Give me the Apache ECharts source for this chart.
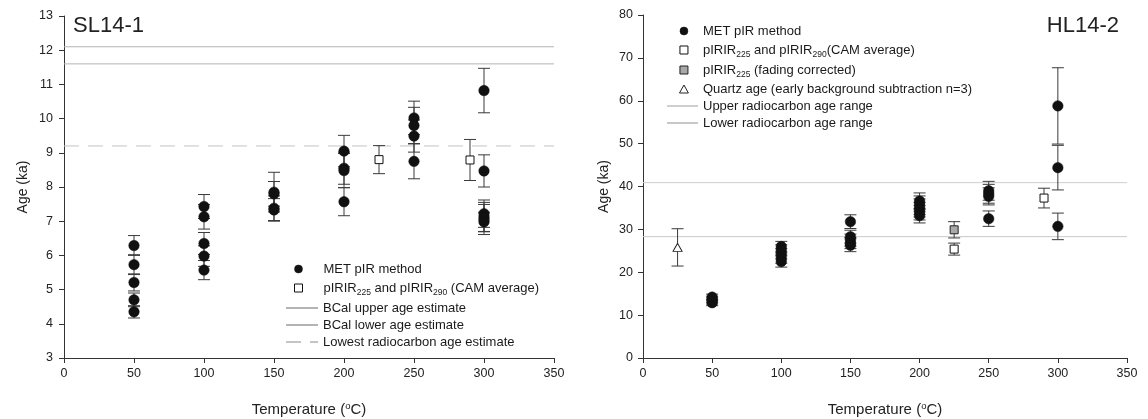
<!DOCTYPE html>
<html>
<head>
<meta charset="utf-8">
<script src="https://cdn.jsdelivr.net/npm/echarts@6/dist/echarts.min.js"></script>
<style>
  html, body { margin: 0; padding: 0; background: #fff; }
  #chart { width: 1148px; height: 419px; }
</style>
</head>
<body>
<div id="chart"></div>
<script>
// ---- SL14-1 : [temperature °C, age ka, ± error ka]
const slMet = [
  [50, 6.29, 0.29], [50, 5.73, 0.29], [50, 5.21, 0.25], [50, 4.70, 0.20], [50, 4.35, 0.18],
  [100, 7.43, 0.35], [100, 7.13, 0.36], [100, 6.35, 0.32], [100, 5.98, 0.30], [100, 5.57, 0.28],
  [150, 7.85, 0.58], [150, 7.80, 0.36], [150, 7.38, 0.36], [150, 7.33, 0.33],
  [200, 9.05, 0.46], [200, 8.55, 0.47], [200, 8.48, 0.50], [200, 7.57, 0.41],
  [250, 10.02, 0.49], [250, 9.80, 0.53], [250, 9.49, 0.47], [250, 8.75, 0.51],
  [300, 10.82, 0.65], [300, 8.47, 0.47], [300, 7.22, 0.40], [300, 7.12, 0.43], [300, 7.05, 0.44], [300, 6.98, 0.28]
];
const slCam = [[225, 8.80, 0.41], [290, 8.79, 0.60]];
const slBcalUpper = 12.1;
const slBcalLower = 11.6;
const slLowestRadiocarbon = 9.2;

// ---- HL14-2 : [temperature °C, age ka, ± error ka]
const hlMet = [
  [50, 14.2, 0.7], [50, 13.7, 0.7], [50, 13.3, 0.7], [50, 12.9, 0.7],
  [100, 26.0, 1.2], [100, 25.2, 1.2], [100, 24.3, 1.2], [100, 23.3, 1.2], [100, 22.5, 1.3],
  [150, 31.8, 1.6], [150, 28.3, 1.5], [150, 27.5, 1.4], [150, 26.8, 1.3], [150, 26.3, 1.5],
  [200, 36.6, 1.9], [200, 36.0, 1.8], [200, 35.3, 1.8], [200, 34.6, 1.7], [200, 33.9, 1.7], [200, 33.2, 1.7],
  [250, 39.0, 2.2], [250, 38.3, 2.2], [250, 37.7, 2.0], [250, 32.5, 1.8],
  [300, 58.8, 8.9], [300, 44.4, 5.2], [300, 30.7, 3.1]
];
const hlCam = [[225, 25.4, 1.4], [290, 37.3, 2.3]];
const hlFading = [[225, 29.9, 1.9]];
const hlQuartz = [[25, 25.8, 4.35]];
const hlRadiocarbonUpper = 40.9;
const hlRadiocarbonLower = 28.3;

// axis extents
const tempRange = [0, 350];
const slAgeRange = [3, 13];
const hlAgeRange = [0, 80];

// series names
const N_MET = 'MET pIR method';
const N_SL_CAM = 'pIRIR225 and pIRIR290 (CAM average)';
const N_HL_CAM = 'pIRIR225 and pIRIR290(CAM average)';
const N_FADING = 'pIRIR225 (fading corrected)';
const N_QUARTZ = 'Quartz age (early background subtraction n=3)';
const N_BCAL_UP = 'BCal upper age estimate';
const N_BCAL_LOW = 'BCal lower age estimate';
const N_LOWEST_C14 = 'Lowest radiocarbon age estimate';
const N_C14_UP = 'Upper radiocarbon age range';
const N_C14_LOW = 'Lower radiocarbon age range';

const FONT = '"Liberation Sans", Arial, Helvetica, sans-serif';
const SQUARE = 'path://M0,0H10V10H0Z';
const TRIANGLE = 'path://M5,0L10,9H0Z';

function errorBar(params, api) {
  const x = api.value(0), y = api.value(1), e = api.value(2);
  const top = api.coord([x, y + e]);
  const bot = api.coord([x, y - e]);
  const hw = 6;
  const style = { stroke: '#3a3a3a', lineWidth: 1 };
  return {
    type: 'group',
    children: [
      { type: 'line', shape: { x1: top[0], y1: top[1], x2: bot[0], y2: bot[1] }, style },
      { type: 'line', shape: { x1: top[0] - hw, y1: top[1], x2: top[0] + hw, y2: top[1] }, style },
      { type: 'line', shape: { x1: bot[0] - hw, y1: bot[1], x2: bot[0] + hw, y2: bot[1] }, style }
    ]
  };
}

function errSeries(data, idx) {
  return {
    type: 'custom', xAxisIndex: idx, yAxisIndex: idx, renderItem: errorBar,
    data: data, encode: { x: 0, y: 1 }, z: 2, silent: true
  };
}
function pts(list) { return list.map(d => [d[0], d[1]]); }
function hline(name, v, idx, color, dash) {
  return {
    name, type: 'line', xAxisIndex: idx, yAxisIndex: idx, symbol: 'none', silent: true,
    data: [[tempRange[0], v], [tempRange[1], v]],
    itemStyle: { color, opacity: 0 },
    lineStyle: { color, width: 1, type: dash ? [15, 9] : 'solid' }, z: 1
  };
}

const circleStyle = { color: '#111', borderColor: '#111', borderWidth: 0.5, opacity: 1 };
const openSquareStyle = { color: '#fff', borderColor: '#111', borderWidth: 1, opacity: 1 };
const greySquareStyle = { color: '#a9a9a9', borderColor: '#222', borderWidth: 1, opacity: 1 };
const triangleStyle = { color: '#fff', borderColor: '#222', borderWidth: 1, opacity: 1 };
const hiddenSymbol = { opacity: 0 };

// subscripts in legend text
function subFmt(name) { return name.replace(/pIRIR(\d{3})/g, 'pIRIR{s|$1}'); }
const legendText = {
  fontFamily: FONT, fontSize: 13, color: '#1a1a1a', lineHeight: 16,
  rich: { s: { fontFamily: FONT, fontSize: 8.5, lineHeight: 18, verticalAlign: 'bottom', color: '#1a1a1a' } }
};

function axisStyle(labelMargin) {
  return {
    axisLine: { show: true, onZero: false, lineStyle: { color: '#333', width: 1 } },
    axisTick: { show: true, length: 5, lineStyle: { color: '#333' } },
    splitLine: { show: false },
    axisLabel: { fontFamily: FONT, fontSize: 12.5, color: '#222', margin: labelMargin }
  };
}
const xName = '{n|Temperature (}{sup|o}{n|C)}';
const xNameStyle = {
  fontFamily: FONT, fontSize: 15, color: '#222',
  rich: {
    n: { fontFamily: FONT, fontSize: 15, color: '#222', lineHeight: 17 },
    sup: { fontFamily: FONT, fontSize: 9.5, color: '#222', lineHeight: 17, verticalAlign: 'top' }
  }
};
const yNameStyle = { fontFamily: FONT, fontSize: 14, color: '#222' };

const option = {
  animation: false,
  backgroundColor: '#fff',
  title: [
    { text: 'SL14-1', left: 68, top: 10, textStyle: { fontFamily: FONT, fontSize: 22, fontWeight: 'normal', color: '#222' } },
    { text: 'HL14-2', right: 24, top: 10, textStyle: { fontFamily: FONT, fontSize: 22, fontWeight: 'normal', color: '#222' } }
  ],
  grid: [
    { left: 64, top: 16, width: 490, height: 342, containLabel: false, outerBoundsMode: 'none' },
    { left: 643, top: 15, width: 484, height: 343, containLabel: false, outerBoundsMode: 'none' }
  ],
  xAxis: [
    Object.assign({ type: 'value', gridIndex: 0, min: tempRange[0], max: tempRange[1], interval: 50,
      name: xName, nameLocation: 'middle', nameGap: 43, nameTextStyle: xNameStyle }, axisStyle(9)),
    Object.assign({ type: 'value', gridIndex: 1, min: tempRange[0], max: tempRange[1], interval: 50,
      name: xName, nameLocation: 'middle', nameGap: 43, nameTextStyle: xNameStyle }, axisStyle(9))
  ],
  yAxis: [
    Object.assign({ type: 'value', gridIndex: 0, min: slAgeRange[0], max: slAgeRange[1], interval: 1,
      name: 'Age (ka)', nameLocation: 'middle', nameGap: 34, nameTextStyle: yNameStyle }, axisStyle(11)),
    Object.assign({ type: 'value', gridIndex: 1, min: hlAgeRange[0], max: hlAgeRange[1], interval: 10,
      name: 'Age (ka)', nameLocation: 'middle', nameGap: 32, nameTextStyle: yNameStyle }, axisStyle(10))
  ],
  legend: [
    // SL14-1 symbols
    {
      orient: 'vertical', left: 289, top: 256, itemWidth: 40, itemHeight: 8, itemGap: 2,
      selectedMode: false, formatter: subFmt, textStyle: legendText,
      data: [
        { name: N_MET, icon: 'circle', itemStyle: circleStyle },
        { name: N_SL_CAM, icon: SQUARE, itemStyle: openSquareStyle }
      ]
    },
    // SL14-1 reference lines
    {
      orient: 'vertical', left: 280, top: 295, itemWidth: 32, itemHeight: 8, itemGap: 1,
      selectedMode: false, textStyle: legendText,
      data: [
        { name: N_BCAL_UP, itemStyle: hiddenSymbol },
        { name: N_BCAL_LOW, itemStyle: hiddenSymbol },
        { name: N_LOWEST_C14, itemStyle: hiddenSymbol }
      ]
    },
    // HL14-2 symbols
    {
      orient: 'vertical', left: 674, top: 18, itemWidth: 28, itemHeight: 8, itemGap: 2,
      selectedMode: false, formatter: subFmt, textStyle: legendText,
      data: [
        { name: N_MET, icon: 'circle', itemStyle: circleStyle },
        { name: N_HL_CAM, icon: SQUARE, itemStyle: openSquareStyle },
        { name: N_FADING, icon: SQUARE, itemStyle: greySquareStyle },
        { name: N_QUARTZ, icon: TRIANGLE, itemStyle: triangleStyle }
      ]
    },
    // HL14-2 reference lines
    {
      orient: 'vertical', left: 661, top: 93, itemWidth: 31, itemHeight: 8, itemGap: 1,
      selectedMode: false, textStyle: legendText,
      data: [
        { name: N_C14_UP, itemStyle: hiddenSymbol },
        { name: N_C14_LOW, itemStyle: hiddenSymbol }
      ]
    }
  ],
  series: [
    // SL14-1
    hline(N_BCAL_UP, slBcalUpper, 0, '#b4b4b4', false),
    hline(N_BCAL_LOW, slBcalLower, 0, '#b4b4b4', false),
    hline(N_LOWEST_C14, slLowestRadiocarbon, 0, '#c4c4c4', true),
    errSeries(slMet, 0),
    errSeries(slCam, 0),
    { name: N_MET, type: 'scatter', xAxisIndex: 0, yAxisIndex: 0, symbol: 'circle', symbolSize: 10.5,
      itemStyle: circleStyle, data: pts(slMet), z: 3 },
    { name: N_SL_CAM, type: 'scatter', xAxisIndex: 0, yAxisIndex: 0, symbol: 'rect', symbolSize: 8,
      itemStyle: openSquareStyle, data: pts(slCam), z: 3 },

    // HL14-2
    hline(N_C14_UP, hlRadiocarbonUpper, 1, '#cfcfcf', false),
    hline(N_C14_LOW, hlRadiocarbonLower, 1, '#c8c8c8', false),
    errSeries(hlMet, 1),
    errSeries(hlCam, 1),
    errSeries(hlFading, 1),
    errSeries(hlQuartz, 1),
    { name: N_MET, type: 'scatter', xAxisIndex: 1, yAxisIndex: 1, symbol: 'circle', symbolSize: 10.5,
      itemStyle: circleStyle, data: pts(hlMet), z: 3 },
    { name: N_HL_CAM, type: 'scatter', xAxisIndex: 1, yAxisIndex: 1, symbol: 'rect', symbolSize: 8,
      itemStyle: openSquareStyle, data: pts(hlCam), z: 3 },
    { name: N_FADING, type: 'scatter', xAxisIndex: 1, yAxisIndex: 1, symbol: 'rect', symbolSize: 8,
      itemStyle: greySquareStyle, data: pts(hlFading), z: 3 },
    { name: N_QUARTZ, type: 'scatter', xAxisIndex: 1, yAxisIndex: 1, symbol: 'triangle', symbolSize: [9, 8],
      itemStyle: triangleStyle, data: pts(hlQuartz), z: 3 }
  ]
};

const chart = echarts.init(document.getElementById('chart'), null, { renderer: 'canvas' });
chart.setOption(option);
</script>
</body>
</html>
